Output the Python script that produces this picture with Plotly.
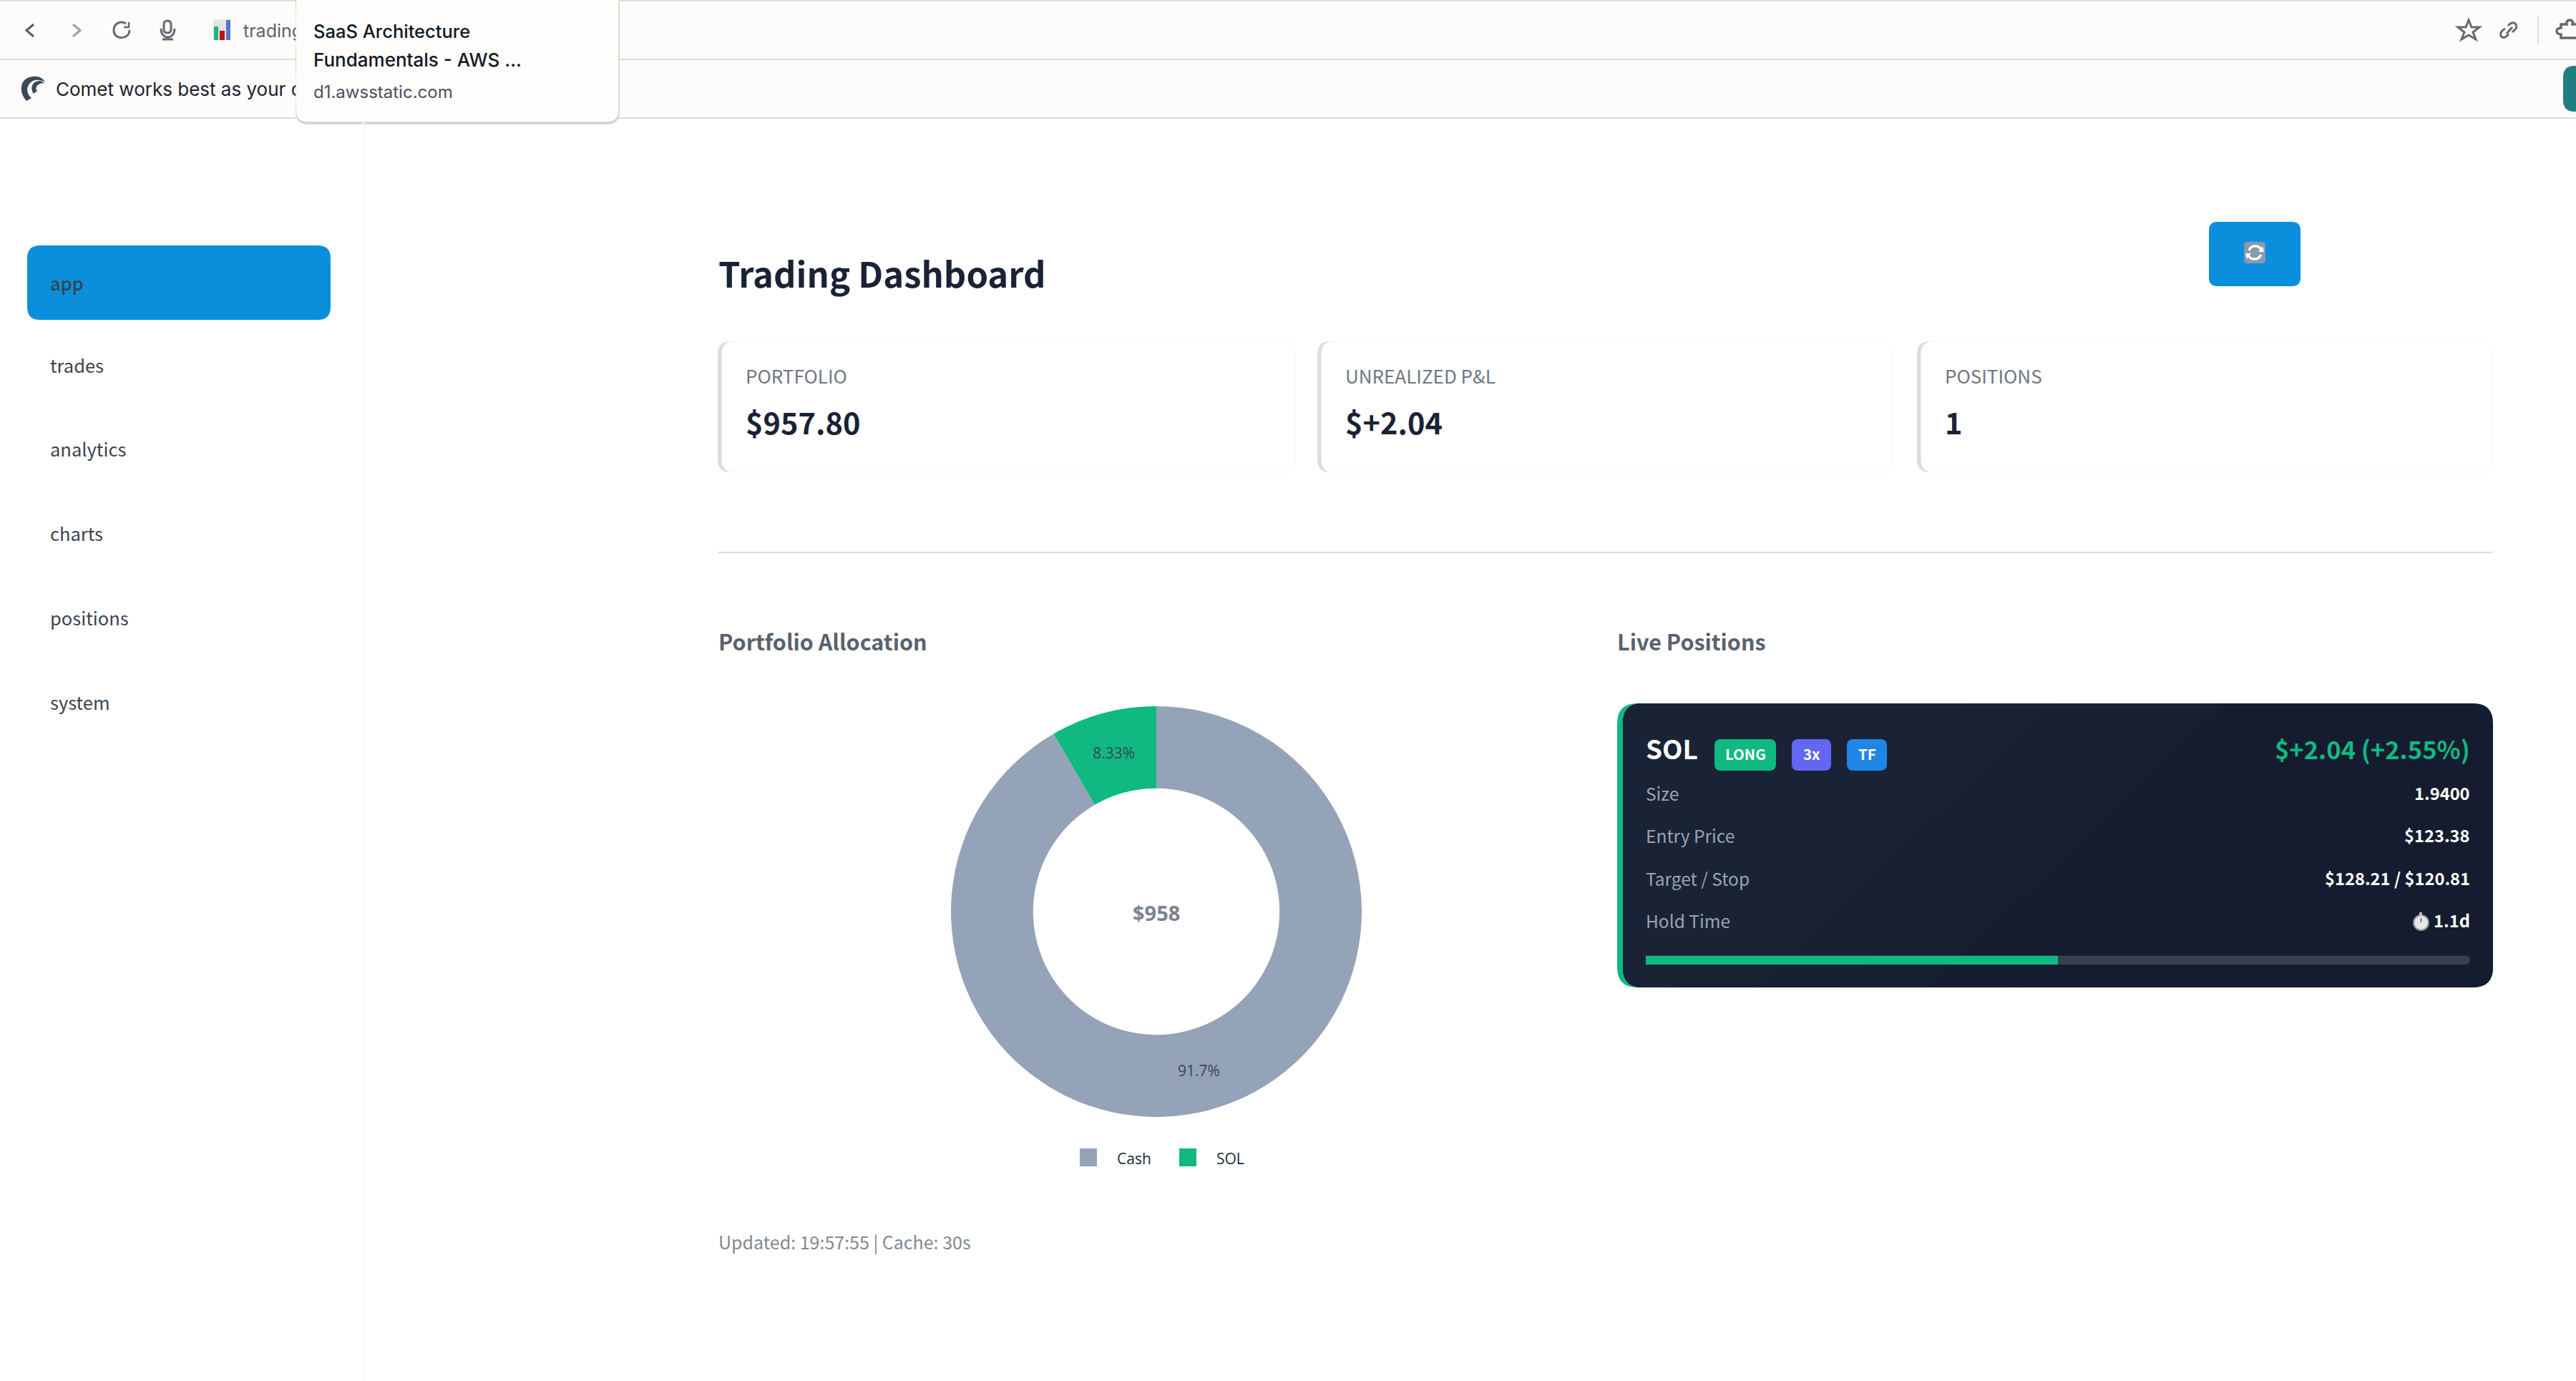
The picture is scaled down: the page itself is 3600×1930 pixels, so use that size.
import plotly.graph_objects as go

# ── Data ───────────────────────────────────────────────────────────────────────
ALLOC_LABELS = ["Cash", "SOL"]
ALLOC_VALUES = [878.0, 79.8]
ALLOC_CENTER = "$958"

NAV_ITEMS = ["app", "trades", "analytics", "charts", "positions", "system"]

KPI_LABELS = ["PORTFOLIO", "UNREALIZED P&L", "POSITIONS"]
KPI_VALUES = ["$957.80", "$+2.04", "1"]

POS_SYMBOL = "SOL"
POS_BADGES = ["LONG", "3x", "TF"]
POS_PNL = "$+2.04 (+2.55%)"
POS_ROW_LABELS = ["Size", "Entry Price", "Target / Stop", "Hold Time"]
POS_ROW_VALUES = ["1.9400", "$123.38", "$128.21 / $120.81", "1.1d"]
POS_PROGRESS = [50]
POS_PROGRESS_FULL = [100]

# ── Style ──────────────────────────────────────────────────────────────────────
W, H = 3600, 1930
SANS = "Noto Sans CJK SC"      # latin glyphs are Source Sans, same as the app
UI = "Inter"
PLOT = "Open Sans"
NAVY = "#1a2236"
GREY = "#6f7682"
GREEN = "#10b981"
SLATE = "#94a3b8"
BLUE = "#0b8fdc"
CHROME = "#fdfcfa"
RULE = "#dcdcd8"
ICON = "#636a72"
ALLOC_COLORS = [SLATE, GREEN]

shapes = []
notes = []


def rr(x0, y0, x1, y1, r):
    return (f"M{x0+r},{y0} L{x1-r},{y0} Q{x1},{y0} {x1},{y0+r} L{x1},{y1-r} Q{x1},{y1} {x1-r},{y1} "
            f"L{x0+r},{y1} Q{x0},{y1} {x0},{y1-r} L{x0},{y0+r} Q{x0},{y0} {x0+r},{y0} Z")


def fill(path, color, line=None, lw=0):
    shapes.append(dict(type="path", path=path, xref="x", yref="y", fillcolor=color, layer="below",
                       line=dict(color=line or color, width=lw)))


def stroke(path, color, lw=3):
    shapes.append(dict(type="path", path=path, xref="x", yref="y", layer="below",
                       fillcolor="rgba(0,0,0,0)", line=dict(color=color, width=lw)))


def rect(x0, y0, x1, y1, color):
    shapes.append(dict(type="rect", x0=x0, y0=y0, x1=x1, y1=y1, xref="x", yref="y",
                       fillcolor=color, line_width=0, layer="below"))


def txt(x, y, text, size, color, anchor="left", family=SANS, weight=400):
    # the CJK face sits a little low in its line box
    dy = -3 if family == SANS else 0
    notes.append(dict(x=x, y=y + dy, xref="x", yref="y", text=text, showarrow=False, xanchor=anchor,
                      yanchor="middle", borderpad=0, borderwidth=0,
                      font=dict(size=size, color=color, family=family, weight=weight)))


# ── Browser chrome ─────────────────────────────────────────────────────────────
rect(0, 0, W, 165, CHROME)
rect(0, 0, W, 2, RULE)
rect(0, 82, W, 84, RULE)
rect(0, 164, W, 166, RULE)

stroke("M47,34 L37,42.5 L47,51", "#59606a")
stroke("M102,34 L112,42.5 L102,51", "#9aa3aa")
stroke("M176,33 C170,29 159,31 159,43 C159,56 181,56 181,42", ICON)
stroke("M180,31 L180,38 L173,38", ICON, 2.5)
stroke(rr(229, 29, 239, 46, 5), ICON)
stroke("M225,40 C225,56 244,56 244,40 M234.5,51 L234.5,55 M227,55 L242,55", ICON)

rect(298, 27, 322, 56, "#e4e4e2")
rect(299, 37, 305, 56, "#1cb878")
rect(307, 43, 314, 56, "#c01212")
rect(316, 28, 322, 56, "#5577cc")
txt(340, 43, "trading", 25, "#5d636c", family=UI)

# comet logo
fill("M37,141 C25,128 28,108 46,107 C54,106 60,109 63,115 C55,110 46,111 41,117 C36,124 38,132 44,137 Z", "#3a4a5c")
fill("M47,131 C41,122 46,112 57,113 L62,116 C55,116 51,119 50,124 L52,127 Z", "#3a4a5c")
txt(78, 124, "Comet works best as your c", 26, "#1c2330", family=UI)

# star, link, divider, extensions, teal pill
stroke("M3450,28 L3454,38 L3465,38 L3456,45 L3460,55 L3450,49 L3440,55 L3444,45 L3435,38 L3446,38 Z", ICON)
stroke("M3501,40 C3491,46 3494,54 3501,52 L3506,48 M3505,36 C3512,28 3519,33 3516,40 L3511,45 M3503,47 L3511,38", ICON)
rect(3546, 22, 3548, 62, RULE)
stroke("M3602,34 H3595 C3598,26 3585,26 3587,34 H3579 V39 C3571,39 3571,48 3579,48 V53 H3602", ICON, 3.5)
fill(rr(3582, 92, 3640, 156, 16), "#207e82")

# tooltip over the tab strip
fill("M413,0 L864,0 L866,4 L866,156 Q866,174 848,174 L431,174 Q413,174 413,156 Z", "#d8d9d5")
fill("M414,0 L864,0 L864,154 Q864,170 848,170 L430,170 Q414,170 414,154 Z", "#fefdfb")
notes.append(dict(x=426, y=43, xref="x", yref="y", text=" ", showarrow=False, width=24, height=50,
                  bgcolor="#fefdfb", borderpad=0))
notes.append(dict(x=426, y=124, xref="x", yref="y", text=" ", showarrow=False, width=24, height=50,
                  bgcolor="#fefdfb", borderpad=0))
txt(438, 43, "SaaS Architecture", 25.5, "#121826", family=UI, weight=500)
txt(438, 83, "Fundamentals - AWS ...", 26, "#121826", family=UI, weight=500)
txt(438, 128, "d1.awsstatic.com", 24, "#4b5260", family=UI)

# ── Sidebar ────────────────────────────────────────────────────────────────────
rect(507, 166, 509, H, "#fafaf8")
fill(rr(38, 343, 462, 447, 18), BLUE)
for name, y in zip(NAV_ITEMS, [397, 512, 629, 747, 865, 983]):
    txt(70, y, name, 25.5, "#3b4350", weight=500 if name == "app" else 400)

# ── Header and KPI cards ───────────────────────────────────────────────────────
txt(1004, 383, "Trading Dashboard", 49, NAVY, weight=700)

fill(rr(3087, 310, 3215, 400, 12), BLUE)
fill(rr(3136, 338, 3166, 368, 5), "#8a99ae")
stroke("M3143,350 C3146,342 3156,342 3160,349 M3160,356 C3156,364 3146,364 3142,357", "#ffffff", 3.5)
fill("M3156,352 L3164,352 L3162,344 Z", "#ffffff")
fill("M3146,354 L3138,354 L3140,362 Z", "#ffffff")

for (x0, x1), label, value in zip([(1003, 1810), (1841, 2645), (2679, 3483)], KPI_LABELS, KPI_VALUES):
    fill(rr(x0, 477, x1, 660, 18), RULE)
    fill(rr(x0 + 6, 477, x1, 660, 18), "#ffffff", "#faf9f7", 1.5)
    txt(x0 + 39, 527, label, 26, GREY)
    txt(x0 + 39, 592, value, 41.5, NAVY, weight=700)

rect(1004, 771, 3484, 773, RULE)

txt(1004, 899, "Portfolio Allocation", 30.5, "#59616e", weight=700)
txt(2260, 899, "Live Positions", 30.5, "#59616e", weight=700)
txt(1004, 1738, "Updated: 19:57:55 | Cache: 30s", 25, "#828994")

# ── Allocation legend and centre label ─────────────────────────────────────────
for label, color, sq, tx in zip(ALLOC_LABELS, ALLOC_COLORS, [1509, 1648], [1561, 1700]):
    rect(sq, 1605, sq + 24, 1630, color)
    txt(tx, 1619, label, 21, "#20293a", family=PLOT)
txt(1616, 1275, ALLOC_CENTER, 29, "#7c838e", anchor="center", family=PLOT, weight=700)

# ── Position card ──────────────────────────────────────────────────────────────
fill(rr(2260, 983, 3484, 1380, 28), GREEN)
fill(rr(2268, 983, 3484, 1380, 28), "#151c2f")
# soft diagonal gradient, stepped from the right
for shift, color in zip([240, 120, 0, -120, -240], ["#161d30", "#171f32", "#182033", "#192135", "#1a2336"]):
    fill(f"M2296,983 L{2988+shift},983 L{2573+shift},1380 L2296,1380 Q2268,1380 2268,1352 "
         f"L2268,1011 Q2268,983 2296,983 Z", color)

txt(2300, 1048, POS_SYMBOL, 37, "#ffffff", weight=700)
for (x0, x1), label, color in zip([(2396, 2482), (2504, 2559), (2581, 2637)], POS_BADGES,
                                  [GREEN, "#6366f1", "#1f86e5"]):
    fill(rr(x0, 1033, x1, 1077, 9), color)
    txt((x0 + x1) / 2, 1056, label, 20.5, "#ffffff", anchor="center", weight=700)
txt(3452, 1049, POS_PNL, 34.5, GREEN, anchor="right", weight=700)

for label, value, y in zip(POS_ROW_LABELS, POS_ROW_VALUES, [1111, 1170, 1230, 1289]):
    txt(2300, y, label, 24.5, "#9aa3b2")
    txt(3452, y, value, 23.7, "#ffffff", anchor="right", weight=700)

# stopwatch in the hold time row
shapes.append(dict(type="circle", x0=3373, y0=1279, x1=3394, y1=1300, xref="x", yref="y",
                   fillcolor="#e6e6e6", line=dict(color="#8d8f94", width=2), layer="below"))
rect(3381, 1275, 3385, 1280, "#b8babd")
stroke("M3383.5,1289 L3383.5,1283", "#555a60", 1.5)

# ── Figure ─────────────────────────────────────────────────────────────────────
fig = go.Figure()

fig.add_trace(go.Pie(
    labels=ALLOC_LABELS,
    values=ALLOC_VALUES,
    hole=0.6,
    marker=dict(colors=ALLOC_COLORS, line=dict(width=0)),
    textinfo="percent",
    textposition="inside",
    insidetextorientation="horizontal",
    textfont=dict(size=21, color="#3f4550", family=PLOT),
    domain=dict(x=[(1616 - 287) / W, (1616 + 287) / W], y=[1 - (1274 + 287) / H, 1 - (1274 - 287) / H]),
    showlegend=False,
))

# progress bar: track + fill on their own small axes
fig.add_trace(go.Bar(x=POS_PROGRESS_FULL, y=[0], orientation="h", width=1, xaxis="x2", yaxis="y2",
                     marker=dict(color="#36424f", cornerradius=6, line_width=0), showlegend=False))
fig.add_trace(go.Bar(x=POS_PROGRESS, y=[0], orientation="h", width=1, xaxis="x2", yaxis="y2",
                     marker=dict(color=GREEN, cornerradius=6, line_width=0), showlegend=False))

fig.update_layout(
    width=W,
    height=H,
    margin=dict(l=0, r=0, t=0, b=0),
    paper_bgcolor="#ffffff",
    plot_bgcolor="rgba(0,0,0,0)",
    barmode="overlay",
    shapes=shapes,
    annotations=notes,
    xaxis=dict(range=[0, W], domain=[0, 1], visible=False, fixedrange=True),
    yaxis=dict(range=[H, 0], domain=[0, 1], visible=False, fixedrange=True),
    xaxis2=dict(range=[0, 100], domain=[2300 / W, 3452 / W], visible=False, anchor="y2", fixedrange=True),
    yaxis2=dict(range=[-0.5, 0.5], domain=[1 - 1348 / H, 1 - 1335.5 / H], visible=False, anchor="x2", fixedrange=True),
)

fig.write_html("out.html", config={"displayModeBar": False}, post_script="document.body.style.margin='0'")
